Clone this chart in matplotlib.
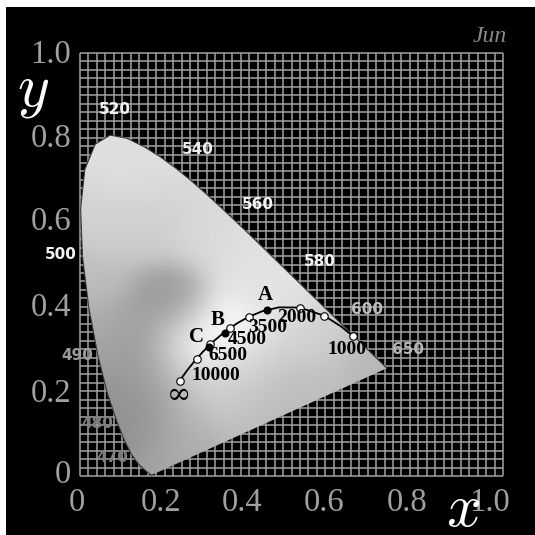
import numpy as np
import matplotlib
matplotlib.use("Agg")
import matplotlib.pyplot as plt
from matplotlib.patches import Polygon, Rectangle

# ===========================
# DATA
# ===========================
# CIE 1931 spectral locus
wl = [380, 420, 440, 450, 460, 465, 470, 475, 480, 485, 490, 495, 500, 505,
      510, 515, 520, 525, 530, 535, 540, 545, 550, 555, 560, 565, 570, 575,
      580, 585, 590, 595, 600, 610, 620, 630, 640, 650, 660, 680, 700]
locus_x = [0.1741, 0.1714, 0.1644, 0.1566, 0.1440, 0.1355, 0.1241, 0.1096,
           0.0913, 0.0687, 0.0454, 0.0235, 0.0082, 0.0039, 0.0139, 0.0389,
           0.0743, 0.1142, 0.1547, 0.1929, 0.2296, 0.2658, 0.3016, 0.3373,
           0.3731, 0.4087, 0.4441, 0.4788, 0.5125, 0.5448, 0.5752, 0.6029,
           0.6270, 0.6658, 0.6915, 0.7079, 0.7190, 0.7260, 0.7300, 0.7334,
           0.7347]
locus_y = [0.0050, 0.0051, 0.0109, 0.0177, 0.0297, 0.0399, 0.0578, 0.0868,
           0.1327, 0.2007, 0.2950, 0.4127, 0.5384, 0.6548, 0.7502, 0.8120,
           0.8338, 0.8262, 0.8059, 0.7816, 0.7543, 0.7243, 0.6923, 0.6589,
           0.6245, 0.5896, 0.5547, 0.5202, 0.4866, 0.4544, 0.4242, 0.3965,
           0.3725, 0.3340, 0.3083, 0.2920, 0.2809, 0.2740, 0.2700, 0.2666,
           0.2653]

# Planckian locus (K -> x, y), last one is infinity
planck_T = [1000, 1200, 1500, 2000, 2500, 3000, 3500, 4000, 4500, 5000,
            6000, 6500, 8000, 10000, 15000, 20000, np.inf]
planck_x = [0.6528, 0.6251, 0.5857, 0.5267, 0.4770, 0.4369, 0.4053, 0.3805,
            0.3608, 0.3451, 0.3221, 0.3135, 0.2952, 0.2807, 0.2637, 0.2565,
            0.2399]
planck_y = [0.3444, 0.3674, 0.3931, 0.4133, 0.4137, 0.4041, 0.3907, 0.3768,
            0.3636, 0.3516, 0.3318, 0.3237, 0.3048, 0.2884, 0.2674, 0.2577,
            0.2342]
marked_T = [1000, 1500, 2000, 3500, 4500, 6500, 10000, np.inf]

# standard illuminants
illum_names = ["A", "B", "C"]
illum_x = [0.4476, 0.3484, 0.3101]
illum_y = [0.4074, 0.3516, 0.3162]

# grey tone of the horseshoe (x, y, grey)
tone_x = [0.07, 0.15, 0.03, 0.16, 0.30, 0.40, 0.02, 0.22, 0.05, 0.14, 0.20,
          0.09, 0.13, 0.18, 0.26, 0.31, 0.40, 0.45, 0.56, 0.70, 0.56, 0.47,
          0.26, 0.34]
tone_y = [0.78, 0.72, 0.62, 0.62, 0.60, 0.52, 0.48, 0.42, 0.35, 0.30, 0.23,
          0.17, 0.07, 0.02, 0.10, 0.20, 0.25, 0.15, 0.20, 0.27, 0.34, 0.44,
          0.30, 0.36]
tone_g = [0.87, 0.87, 0.82, 0.80, 0.85, 0.88, 0.74, 0.60, 0.66, 0.60, 0.60,
          0.58, 0.55, 0.68, 0.68, 0.80, 0.82, 0.73, 0.74, 0.72, 0.82, 0.89,
          1.00, 0.99]

wl_labels = ["520", "540", "560", "580", "600", "650", "500", "490", "480", "470"]
temp_labels = ["10000", "6500", "4500", "3500", "2000", "1000"]
tick_labels = ["0", "0.2", "0.4", "0.6", "0.8", "1.0"]

# ===========================
# LAYOUT (pixels in a 535 x 535 image)
# ===========================
W = 535
wl_pos = [(115, 110), (198, 150), (258, 205), (320, 262), (367, 309),
          (408, 350), (61, 255), (77, 355), (97, 423), (112, 458)]
wl_col = ["#f2f2f2", "#ececec", "#f2f2f2", "#f2f2f2", "#bcbcbc",
          "#b4b4b4", "#f2f2f2", "#9c9c9c", "#7e7e7e", "#7e7e7e"]
temp_pos = [(216, 375), (228, 356), (247, 339), (268, 327), (297, 317),
            (347, 349)]
inf_pos = (179, 395)
illum_pos = [(265, 295), (218, 320), (197, 337)]
xtick_px = [77, 161, 242, 324, 407, 490]
ytick_px = [472, 391, 305, 219, 136, 52]


def fx(px):
    return px / W


def fy(py):
    return 1 - py / W


plt.rcParams["mathtext.fontset"] = "cm"

fig = plt.figure(figsize=(5.35, 5.35), dpi=100, facecolor="white")
fig.patches.append(Rectangle((6 / W, 0), 1, 1 - 7 / W, transform=fig.transFigure,
                             facecolor="black", edgecolor="none", zorder=-10))

rect = [fx(80), fy(476), 423 / W, 423 / W]

# grid
gax = fig.add_axes(rect)
gax.set_xlim(0, 1)
gax.set_ylim(0, 1)
gax.axis("off")
lines = np.arange(0, 1.0001, 0.02)
gax.vlines(lines, 0, 1, color="#a2a2a2", lw=1.1, clip_on=False)
gax.hlines(lines, 0, 1, color="#a2a2a2", lw=1.1, clip_on=False)

# chromaticity data
ax = fig.add_axes(rect)
ax.set_xlim(0.0024, 1.0119)
ax.set_ylim(0.0024, 1.0341)
ax.axis("off")
ax.patch.set_alpha(0)

# horseshoe shading
gx, gy = np.meshgrid(np.linspace(0, 0.75, 300), np.linspace(0, 0.85, 340))
tx = np.array(tone_x)[:, None, None]
ty = np.array(tone_y)[:, None, None]
tg = np.array(tone_g)[:, None, None]
wgt = np.exp(-((gx - tx) ** 2 + (gy - ty) ** 2) / (2 * 0.06 ** 2)) + 1e-12
grey = (wgt * tg).sum(0) / wgt.sum(0)

shoe = Polygon(np.column_stack([locus_x, locus_y]), closed=True,
               facecolor="none", edgecolor="none", transform=ax.transData)
ax.add_patch(shoe)
im = ax.imshow(grey, extent=(0, 0.75, 0, 0.85), origin="lower", cmap="gray",
               vmin=0, vmax=1, interpolation="bilinear", aspect="auto", zorder=2)
im.set_clip_path(shoe)
ax.plot(locus_x, locus_y, color="#3a3a3a", lw=0.8, zorder=3, clip_on=False)

# Planckian locus
ax.plot(planck_x, planck_y, color="black", lw=1.3, zorder=4)
mk = [planck_T.index(t) for t in marked_T]
ax.plot([planck_x[i] for i in mk], [planck_y[i] for i in mk], "o", ms=5.4,
        mfc="white", mec="black", mew=0.8, zorder=5)
ax.plot(illum_x, illum_y, "o", ms=4.8, mfc="black", mec="black", zorder=6)

# texts
for s, (px, py), c in zip(wl_labels, wl_pos, wl_col):
    fig.text(fx(px), fy(py), s, ha="center", va="center", color=c,
             fontsize=11, fontweight="bold", family="DejaVu Sans")
for s, (px, py) in zip(temp_labels, temp_pos):
    fig.text(fx(px), fy(py), s, ha="center", va="center", color="black",
             fontsize=14, fontweight="bold", family="Liberation Serif")
fig.text(fx(inf_pos[0]), fy(inf_pos[1]), "\u221e", ha="center", va="center",
         color="black", fontsize=21, family="DejaVu Serif")
for s, (px, py) in zip(illum_names, illum_pos):
    fig.text(fx(px), fy(py), s, ha="center", va="center", color="black",
             fontsize=15, fontweight="bold", family="Liberation Serif")

for s, px in zip(tick_labels, xtick_px):
    fig.text(fx(px), fy(511), s, ha="center", va="baseline", color="#a0a0a0",
             fontsize=23.5, family="Liberation Serif")
for s, py in zip(tick_labels, ytick_px):
    fig.text(fx(71), fy(py + 11), s, ha="right", va="baseline", color="#a0a0a0",
             fontsize=23.5, family="Liberation Serif")

fig.text(fx(33), fy(106), "$y$", ha="center", va="baseline", color="white", fontsize=44)
fig.text(fx(463), fy(526), "$x$", ha="center", va="baseline", color="white", fontsize=44)
fig.text(fx(490), fy(36), "Jun", ha="center", va="center", color="#8a8a8a",
         fontsize=17, style="italic", family="Liberation Serif")

fig.savefig("out.png", dpi=100, facecolor=fig.get_facecolor())
